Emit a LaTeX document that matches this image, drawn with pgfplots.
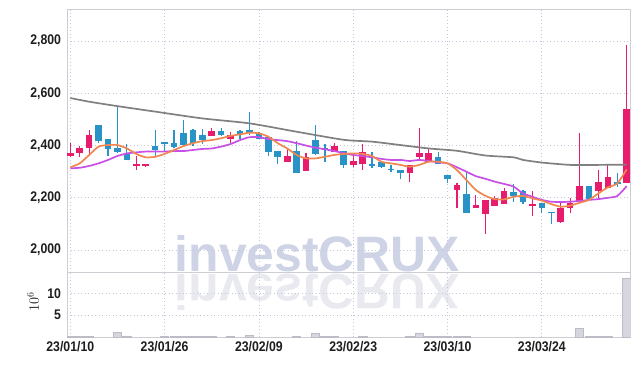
\documentclass[border=0pt]{standalone}
\usepackage{pgfplots}
\pgfplotsset{compat=1.18}
\usepackage{pgfplotstable}
\usepackage{fontspec}
\newfontfamily\tickfont{Liberation Sans}[FakeStretch=0.88]
\newfontfamily\wmfont{Liberation Sans}
\definecolor{upc}{RGB}{232,28,108}
\definecolor{dnc}{RGB}{41,146,199}
\definecolor{maf}{RGB}{240,135,80}
\definecolor{mam}{RGB}{200,80,230}
\definecolor{mal}{RGB}{128,128,128}
\definecolor{gridc}{RGB}{196,198,220}
\definecolor{framec}{RGB}{205,205,212}
\definecolor{volfill}{RGB}{214,214,222}
\definecolor{voldraw}{RGB}{188,188,198}
\definecolor{wm}{RGB}{206,212,230}
\definecolor{wmr}{RGB}{233,233,240}
\definecolor{tickc}{RGB}{30,30,30}

\pgfplotstableread{
i o h l c
0 2361 2409 2355 2373
1 2370 2398 2357 2391
2 2392 2460 2364 2440
7 2322 2360 2306 2329
8 2321 2331 2318 2329
15 2438 2469 2436 2456
17 2425 2453 2411 2440
23 2338 2386 2338 2360
25 2304 2373 2304 2355
28 2377 2409 2377 2398
30 2326 2368 2319 2341
31 2328 2405 2306 2377
36 2296 2326 2262 2326
37 2357 2469 2347 2370
38 2336 2386 2336 2370
41 2230 2258 2160 2249
43 2162 2211 2160 2172
44 2137 2192 2062 2192
45 2170 2208 2170 2198
46 2176 2239 2176 2226
49 2169 2226 2130 2176
52 2109 2185 2104 2162
53 2160 2198 2141 2179
54 2185 2447 2185 2245
56 2226 2306 2192 2262
57 2239 2328 2239 2278
59 2258 2785 2258 2539
}\upT

\pgfplotstableread{
i o h l c
3 2479 2480 2409 2419
4 2425 2427 2360 2386
5 2389 2549 2372 2374
6 2373 2405 2343 2343
9 2398 2460 2357 2383
10 2412 2413 2377 2406
11 2411 2460 2389 2396
12 2449 2498 2396 2402
13 2460 2462 2398 2411
14 2440 2462 2406 2421
16 2456 2469 2438 2440
18 2456 2458 2424 2443
19 2460 2527 2440 2447
20 2447 2453 2424 2424
21 2434 2434 2361 2377
22 2379 2379 2328 2357
24 2379 2417 2296 2296
26 2421 2479 2365 2368
27 2392 2405 2338 2383
29 2379 2379 2313 2326
32 2329 2374 2313 2323
33 2338 2340 2313 2319
34 2310 2326 2300 2306
35 2306 2306 2271 2296
39 2355 2377 2328 2328
40 2287 2287 2258 2271
42 2215 2304 2141 2141
47 2221 2253 2185 2207
48 2226 2230 2175 2185
50 2179 2179 2141 2162
51 2145 2146 2098 2141
55 2245 2245 2195 2195
58 2262 2294 2243 2252
}\dnT

\pgfplotstableread{
i v
0 0.2
1 0.2
2 0.15
5 1.1
6 0.3
10 0.15
11 0.2
12 0.15
13 0.2
14 0.15
15 0.2
17 0.15
19 0.5
24 0.2
26 0.9
27 0.2
28 0.2
31 0.2
36 0.2
37 1.0
38 0.25
39 0.2
40 0.2
41 0.2
42 0.15
54 2.0
55 0.2
56 0.2
57 0.2
59 13.4
}\volT

\pgfplotsset{
  panel/.style={
    scale only axis, anchor=north west,
    width=563.5bp,
    xmin=-0.35, xmax=59.4,
    xtick={0,10,...,50},
    grid=major,
    major grid style={gridc, line width=0.8bp, dash pattern=on 1bp off 2.5bp},
    axis line style={framec, line width=0.9bp},
    major tick length=0pt,
    ticklabel style={font=\tickfont\bfseries\fontsize{14}{14}\selectfont, text=tickc},
    yticklabel style={xshift=-2.5bp},
    xticklabel style={yshift=-1bp},
    /pgf/number format/1000 sep={,},
    /pgf/number format/assume math mode=true,
  },
  wick/.style={draw=none, mark=none, forget plot,
    error bars/.cd, y dir=plus, y explicit, error mark=none,
    error bar style={draw=#1, line width=1.2bp}},
  body/.style={draw=none, mark=none, forget plot,
    error bars/.cd, y dir=plus, y explicit, error mark=none,
    error bar style={draw=#1, line width=6.6bp}},
}

\begin{document}
\begin{tikzpicture}
% watermark
\node[anchor=base, inner sep=0pt, text=wm, font=\wmfont\bfseries\fontsize{50}{50}\selectfont] at (317.5bp,-271.5bp) {investCRUX};
\node[anchor=base, inner sep=0pt, yscale=-1, text=wmr, font=\wmfont\bfseries\fontsize{50}{50}\selectfont] at (317.5bp,-274bp) {investCRUX};

\begin{axis}[panel,
  at={(67bp,-9.5bp)}, height=263bp,
  ymin=1914, ymax=2921,
  ytick={2000,2200,...,2800},
  xticklabels=\empty,
]
\addplot[wick=upc] table[x=i, y=l, y error plus expr=\thisrow{h}-\thisrow{l}] {\upT};
\addplot[body=upc] table[x=i, y=o, y error plus expr=\thisrow{c}-\thisrow{o}] {\upT};
\addplot[wick=dnc] table[x=i, y=l, y error plus expr=\thisrow{h}-\thisrow{l}] {\dnT};
\addplot[body=dnc] table[x=i, y=c, y error plus expr=\thisrow{o}-\thisrow{c}] {\dnT};

% long moving average (gray)
\addplot[mal, line width=1.7bp, smooth, tension=0.4, mark=none] coordinates {
(0,2582) (2,2568) (5,2551) (9,2530) (14,2504) (19,2485) (24,2453) (29,2422)
(32,2415) (35,2402) (38,2389) (41,2380) (44,2362) (47,2355) (48,2345)
(50,2335) (53,2326) (56,2326) (59,2327)};
% 20-day (purple)
\addplot[mam, line width=1.7bp, smooth, tension=0.4, mark=none] coordinates {
(0,2313) (1,2315) (2,2322) (3,2332) (4,2345) (5,2360) (6,2370) (7,2374) (8,2377) (9,2377)
(10,2377) (11,2379) (12,2379) (13,2383) (14,2387) (15,2389) (16,2396) (17,2406) (18,2421) (19,2432)
(20,2432) (21,2425) (22,2421) (23,2417) (24,2409) (25,2400) (26,2392) (27,2386) (28,2379) (29,2371)
(30,2364) (31,2360) (32,2355) (33,2349) (34,2345) (35,2345) (36,2341) (37,2345) (38,2341) (39,2336)
(40,2332) (41,2317) (42,2300) (43,2283) (44,2273) (45,2262) (46,2253) (47,2243) (48,2217) (49,2204)
(50,2192) (51,2185) (52,2184) (53,2185) (54,2188) (55,2192) (56,2195) (57,2200) (58,2207) (59,2245)};
% 5-day (orange)
\addplot[maf, line width=1.7bp, smooth, tension=0.4, mark=none] coordinates {
(0,2317) (1,2332) (2,2364) (3,2396) (4,2402) (5,2402) (6,2389) (7,2368) (8,2355) (9,2357)
(10,2368) (11,2383) (12,2398) (13,2409) (14,2417) (15,2421) (16,2428) (17,2437) (18,2443) (19,2449)
(20,2447) (21,2434) (22,2409) (23,2389) (24,2364) (25,2351) (26,2351) (27,2357) (28,2364) (29,2368)
(30,2370) (31,2368) (32,2360) (33,2338) (34,2332) (35,2326) (36,2319) (37,2326) (38,2338) (39,2338)
(40,2332) (41,2306) (42,2268) (43,2230) (44,2208) (45,2195) (46,2194) (47,2204) (48,2207) (49,2198)
(50,2189) (51,2176) (52,2166) (53,2170) (54,2181) (55,2192) (56,2217) (57,2240) (58,2255) (59,2309)};
\end{axis}

\begin{axis}[panel,
  at={(67bp,-272.5bp)}, height=64.8bp,
  ymin=0, ymax=14.7,
  ytick={5,10},
  xticklabels={23/01/10,23/01/26,23/02/09,23/02/23,23/03/10,23/03/24},
]
\addplot[ybar, bar width=8.3bp, bar shift=0pt, fill=volfill, draw=voldraw, line width=0.6bp] table[x=i, y=v] {\volT};
\end{axis}

\node[rotate=90, font=\fontsize{14}{14}\selectfont, text=tickc] at (33bp,-302bp) {$10^{6}$};

\pgfresetboundingbox
\path[use as bounding box] (0,0) rectangle (639bp,-366bp);
\end{tikzpicture}
\end{document}
